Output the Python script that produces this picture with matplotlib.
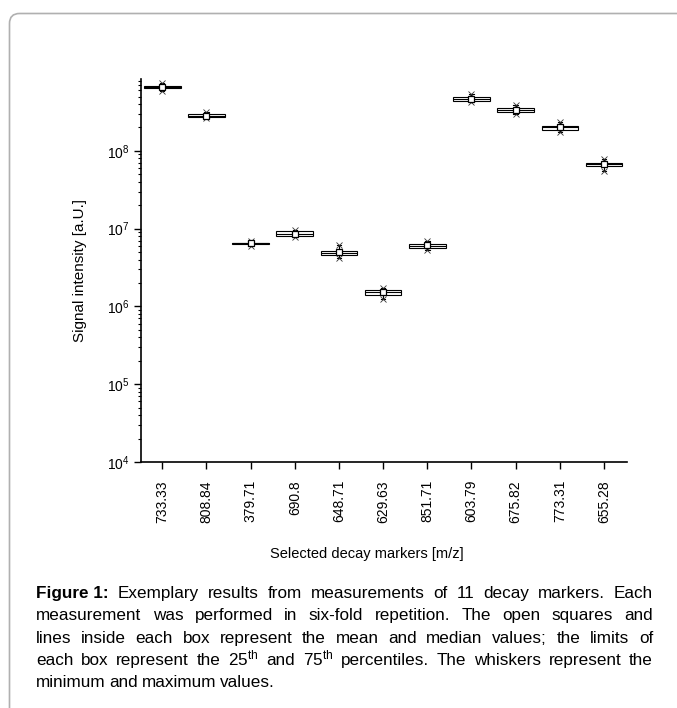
import matplotlib
matplotlib.use("Agg")
import matplotlib.pyplot as plt
from matplotlib.patches import FancyBboxPatch

plt.rcParams['font.family'] = ['Liberation Sans', 'DejaVu Sans']
plt.rcParams['mathtext.fontset'] = 'custom'
plt.rcParams['mathtext.rm'] = 'Liberation Sans'
plt.rcParams['mathtext.it'] = 'Liberation Sans:italic'
plt.rcParams['mathtext.bf'] = 'Liberation Sans:bold'

# decay markers (m/z) and box statistics
markers = ['733.33', '808.84', '379.71', '690.8', '648.71', '629.63',
           '851.71', '603.79', '675.82', '773.31', '655.28']
v_min = [5.97e8, 2.65e8, 6.0e6, 7.73e6, 4.25e6, 1.23e6, 5.38e6, 4.30e8, 2.96e8, 1.75e8, 5.55e7]
q1 = [6.43e8, 2.69e8, 6.4e6, 8.05e6, 4.55e6, 1.40e6, 5.66e6, 4.40e8, 3.13e8, 1.88e8, 6.30e7]
median = [6.70e8, 2.80e8, 6.5e6, 8.60e6, 4.90e6, 1.52e6, 6.00e6, 4.60e8, 3.36e8, 2.00e8, 6.70e7]
mean = [6.70e8, 2.82e8, 6.5e6, 8.65e6, 5.00e6, 1.52e6, 6.10e6, 4.65e8, 3.35e8, 2.00e8, 6.70e7]
q3 = [6.92e8, 2.94e8, 6.6e6, 9.22e6, 5.18e6, 1.65e6, 6.43e6, 4.88e8, 3.56e8, 2.09e8, 7.02e7]
v_max = [7.38e8, 3.20e8, 7.0e6, 9.70e6, 6.18e6, 1.74e6, 7.00e6, 5.33e8, 3.93e8, 2.33e8, 7.96e7]

caption_lines = [
    [("Figure 1:", "bold"), ("Exemplary", None), ("results", None), ("from", None),
     ("measurements", None), ("of", None), ("11", None), ("decay", None),
     ("markers.", None), ("Each", None)],
    "measurement was performed in six-fold repetition. The open squares and",
    "lines inside each box represent the mean and median values; the limits of",
    r"each box represent the 25$^{\mathrm{th}}$ and 75$^{\mathrm{th}}$ percentiles. The whiskers represent the",
    "minimum and maximum values.",
]

W, H = 677, 708
fig = plt.figure(figsize=(W / 100, H / 100), dpi=100)

# page frame
bg = fig.add_axes([0, 0, 1, 1], zorder=-1)
bg.set_xlim(0, W)
bg.set_ylim(H, 0)
bg.axis('off')
bg.add_patch(FancyBboxPatch((9.5, 13.5), 720, 720, boxstyle="round,pad=0,rounding_size=10",
                            fc='white', ec='#b0b0b0', lw=1.2))

ax = fig.add_axes([141 / W, 1 - 462 / H, (627 - 141) / W, (462 - 79) / H])
ax.patch.set_alpha(0)

pos = list(range(1, len(markers) + 1))
stats = []
for i in range(len(markers)):
    stats.append(dict(med=median[i], q1=q1[i], q3=q3[i], whislo=v_min[i], whishi=v_max[i],
                      mean=mean[i], fliers=[]))

ax.bxp(stats, positions=pos, widths=0.83, showmeans=True, patch_artist=True,
       boxprops=dict(facecolor='white', edgecolor='black', linewidth=0.8),
       medianprops=dict(color='black', linewidth=0.8),
       whiskerprops=dict(color='black', linewidth=0.8),
       capprops=dict(color='black', linewidth=0.8), capwidths=0.1,
       meanprops=dict(marker='s', markerfacecolor='white', markeredgecolor='black',
                      markersize=4, markeredgewidth=0.9))
ax.plot(pos, v_min, 'x', color='#333333', ms=4.5, mew=0.6)
ax.plot(pos, v_max, 'x', color='#333333', ms=4.5, mew=0.6)

ax.set_yscale('log')
ax.set_ylim(1e4, 8.4e8)
ax.set_xlim(0.52, 11.52)
ax.set_xticks(pos)
ax.set_xticklabels(markers, rotation=90, fontsize=10)
ax.tick_params(axis='y', labelsize=10)
ax.tick_params(which='major', direction='out', length=5, width=1)
ax.tick_params(which='minor', direction='out', length=2.5, width=0.8)
ax.tick_params(axis='x', pad=8)
for s in ['top', 'right']:
    ax.spines[s].set_visible(False)
for s in ['left', 'bottom']:
    ax.spines[s].set_linewidth(1.2)

ax.set_xlabel('Selected decay markers [m/z]', fontsize=10.5)
ax.xaxis.set_label_coords(0.465, -0.222)
ax.set_ylabel('Signal intensity [a.U.]', fontsize=11, labelpad=14)

# justified caption
renderer = fig.canvas.get_renderer()
left, right = 36, 653
y0, dy = 598, 22.3
fs = 12.3
for k, line in enumerate(caption_lines):
    if isinstance(line, str):
        words = [(w, None) for w in line.split(' ')]
    else:
        words = line
    y = 1 - (y0 + k * dy) / H
    texts = []
    widths = []
    for w, weight in words:
        t = fig.text(0, y, w, fontsize=fs, fontweight=weight or 'normal', va='baseline')
        texts.append(t)
        widths.append(t.get_window_extent(renderer).width)
    if k == len(caption_lines) - 1:
        gap = 3.8
    else:
        gap = (right - left - sum(widths)) / (len(words) - 1)
    x = left
    for t, w in zip(texts, widths):
        t.set_x(x / W)
        x += w + gap

fig.savefig('out.png', dpi=100)
